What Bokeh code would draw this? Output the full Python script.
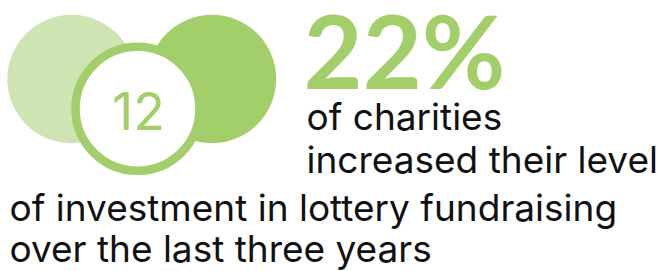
from bokeh.plotting import figure
from bokeh.models import Range1d
from bokeh.core.properties import value
from bokeh.embed import file_html
from bokeh.resources import INLINE

# Data
headline_value = [22]
headline_label = ["22%"]
count_value = [12]
count_label = ["12"]
caption_lines = [
    "of charities",
    "increased their level",
    "of investment in lottery fundraising",
    "over the last three years",
]

W, H = 657, 271
p = figure(width=W, height=H, output_backend="svg", toolbar_location=None,
           x_range=Range1d(0, W), y_range=Range1d(H, 0),
           min_border=0, outline_line_color=None, background_fill_color="white",
           border_fill_color="white")
p.axis.visible = False
p.grid.visible = False

BODY_FONT = "Inter"
HEAD_FONT = "Lato"
LIGHT = "#cfe4b3"
DARK = "#a3cf6a"

K = 0.37  # baseline offset for middle-anchored text (fraction of font size)

# decorative circles
p.circle(x=[71], y=[78.5], radius=64.2, fill_color=LIGHT, line_color=None)
p.circle(x=[211.5], y=[78.5], radius=64.2, fill_color=DARK, line_color=None)
p.circle(x=[137], y=[108.3], radius=62, fill_color="white", line_color=DARK, line_width=8.6)

s12 = 52
p.text(x=[138], y=[130 - K * s12], text=count_label, text_font=value(BODY_FONT),
       text_font_size=f"{s12}px", text_color=DARK, text_align="center", text_baseline="middle")

s22 = 102
p.text(x=[303], y=[87 - K * s22], text=headline_label, text_font=value(HEAD_FONT),
       text_font_size=f"{s22}px", text_font_style="bold", text_color=DARK,
       text_align="left", text_baseline="middle")

sb = 37
xs = [306, 306, 9, 9]
bases = [130, 173, 221, 262]
ys = [b - K * sb for b in bases]
p.text(x=xs, y=ys, text=caption_lines, text_font=value(BODY_FONT), text_font_size=f"{sb}px",
       text_color="#111111", text_align="left", text_baseline="middle")

open("out.html", "w").write(file_html(p, INLINE))
